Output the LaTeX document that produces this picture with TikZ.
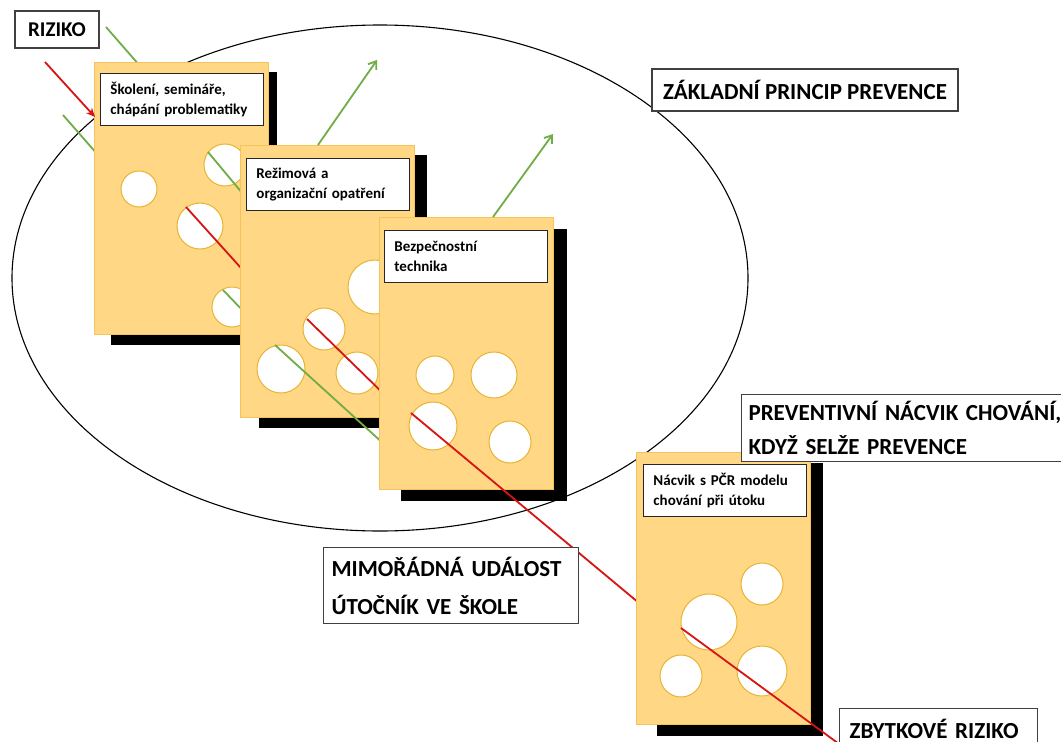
\documentclass[tikz,border=0pt]{standalone}
\usepackage{fontspec}
\setmainfont{Carlito}
\usetikzlibrary{arrows.meta}
\definecolor{cardfill}{RGB}{255,215,133}
\definecolor{cardedge}{RGB}{244,196,90}
\definecolor{holeedge}{RGB}{232,180,50}
\definecolor{grn}{RGB}{112,173,71}
\definecolor{rd}{RGB}{215,20,20}
\definecolor{boxedge}{RGB}{64,64,64}
\begin{document}
\begin{tikzpicture}[x=1pt,y=-1pt,
  card/.style={fill=cardfill, draw=cardedge, line width=1pt, anchor=north west, inner sep=0pt, minimum width=174pt, minimum height=272pt},
  shadowbox/.style={fill=black},
  hole/.style={fill=white, draw=holeedge, line width=1pt},
  cardlbl/.style={draw=black!85, fill=white, line width=0.9pt, anchor=north west, text width=143pt, inner xsep=10pt, inner ysep=0pt, minimum height=52pt, align=left, font=\fontsize{15}{20.5}\selectfont\bfseries},
  biglbl/.style={draw=boxedge, fill=white, line width=1.1pt, inner ysep=0pt, font=\fontsize{23}{34}\selectfont\bfseries},
  gline/.style={draw=grn, line width=1.8pt},
  rline/.style={draw=rd, line width=1.8pt},
  garrow/.style={gline, -{Straight Barb[length=7pt, width=10pt]}},
  rarrow/.style={rline, -{Stealth[length=9pt, width=8pt]}},
]
\useasboundingbox (0,0) rectangle (1061,742);
\fill[white] (0,0) rectangle (1061,742);

% coordinates of line ends
\coordinate (g1a) at (106,27);  \coordinate (g1b) at (140,66);
\coordinate (g2a) at (63,115);  \coordinate (g2b) at (98,155);
\coordinate (g3a) at (208,152); \coordinate (g3b) at (248,200);
\coordinate (g4a) at (223,290); \coordinate (g4b) at (248,316);
\coordinate (r2a) at (186,207); \coordinate (r2b) at (250,278);
\coordinate (r3a) at (307,319); \coordinate (r3b) at (390,400);
\coordinate (g5a) at (275,345); \coordinate (g5b) at (385,445);
\coordinate (a1a) at (318,145); \coordinate (a1b) at (377,60);
\coordinate (r4a) at (411,413); \coordinate (r4b) at (645,608);
\coordinate (a2a) at (493,217); \coordinate (a2b) at (553,134);
\coordinate (r5a) at (681,628); \coordinate (r5b) at (850,752);
\coordinate (r1a) at (45,62);   \coordinate (r1b) at (95,117);

% ellipse
\draw[line width=1.1pt] (380,278) ellipse [x radius=368pt, y radius=253pt];

% green lines below card 1
\draw[gline] (g1a) -- (g1b);
\draw[gline] (g2a) -- (g2b);

% card 1
\fill[shadowbox] (111,72) rectangle (277,345);
\node[card] (c1) at (94,62) {};
\draw[hole] (139,189) circle[radius=18pt];
\draw[hole] (200,226) circle[radius=23pt];
\draw[hole] (225,165) circle[radius=21pt];
\draw[hole] (232,307) circle[radius=20pt];
\node[cardlbl] (l1) at (100,73) {Školení, semináře,\\chápání problematiky};
\draw[rline] (r2a) -- (r2b);
\draw[gline] (g3a) -- (g3b);
\draw[gline] (g4a) -- (g4b);

% card 2
\fill[shadowbox] (259,155) rectangle (427,428);
\node[card] (c2) at (240,145) {};
\draw[hole] (375,287) circle[radius=27pt];
\draw[hole] (324,329) circle[radius=21pt];
\draw[hole] (281,369) circle[radius=24pt];
\draw[hole] (357,373) circle[radius=21pt];
\node[cardlbl] (l2) at (246,158) {Režimová a\\organizační opatření};
\draw[rline] (r3a) -- (r3b);
\draw[gline] (g5a) -- (g5b);
\draw[garrow] (a1a) -- (a1b);

% card 3
\fill[shadowbox] (401,229) rectangle (567,501);
\node[card] (c3) at (379,217) {};
\draw[hole] (435,375) circle[radius=19pt];
\draw[hole] (494,375) circle[radius=23pt];
\draw[hole] (433,426) circle[radius=24pt];
\draw[hole] (510,442) circle[radius=21pt];
\node[cardlbl] (l3) at (384,230) {Bezpečnostní\\technika};
\draw[rline] (r4a) -- (r4b);
\draw[garrow] (a2a) -- (a2b);

% card 4
\fill[shadowbox] (657,463) rectangle (823,736);
\node[card] (c4) at (636,452) {};
\draw[hole] (762,584) circle[radius=21pt];
\draw[hole] (709,622) circle[radius=28pt];
\draw[hole] (681,676) circle[radius=21pt];
\draw[hole] (762,671) circle[radius=25pt];
\node[cardlbl] (l4) at (643,464) {Nácvik s PČR modelu\\chování při útoku};
\draw[rline] (r5a) -- (r5b);

% big labels
\node[biglbl, minimum width=84pt, minimum height=37pt, font=\fontsize{21}{30}\selectfont\bfseries] (riziko) at (57,29.5) {RIZIKO};
\node[biglbl, minimum width=306pt, minimum height=42pt] (zaklad) at (805,90) {ZÁKLADNÍ PRINCIP PREVENCE};
\node[biglbl, anchor=north west, minimum width=340pt, minimum height=67pt, inner xsep=7pt, text width=326pt, align=left] (nacvik) at (741,394) {PREVENTIVNÍ NÁCVIK CHOVÁNÍ,\\KDYŽ SELŽE PREVENCE};
\node[biglbl, anchor=north west, minimum width=255pt, minimum height=76pt, inner xsep=8pt, text width=239pt, align=left, font=\fontsize{23}{38}\selectfont\bfseries] (mimo) at (323,547) {MIMOŘÁDNÁ UDÁLOST\\ÚTOČNÍK VE ŠKOLE};
\node[biglbl, anchor=north west, minimum width=198pt, minimum height=40pt, inner xsep=10pt, text width=178pt, align=left] (zbytek) at (839,708) {ZBYTKOVÉ RIZIKO};

% red incoming arrow
\draw[rarrow] (r1a) -- (r1b);
\end{tikzpicture}
\end{document}
